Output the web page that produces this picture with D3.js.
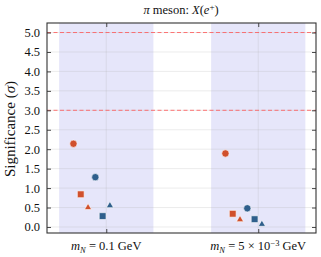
<!DOCTYPE html>
<html><head><meta charset="utf-8">
<script src="https://cdn.jsdelivr.net/npm/d3@7"></script>
<style>body{margin:0;background:#fff}svg{display:block}text{font-family:"Liberation Serif","DejaVu Serif",serif;fill:#111}</style>
</head><body><svg id="c" width="321" height="257"></svg>
<script>
const categories = ["0.1", "5e-3"];
const seriesNames = ["redCircle","redSquare","redTriangle","blueCircle","blueSquare","blueTriangle"];
const seriesColors = ["#d0502c","#d0502c","#d0502c","#2f5f8c","#2f5f8c","#2f5f8c"];
const seriesShapes = ["circle","square","triangle","circle","square","triangle"];
const values = [
  [2.14, 1.89],
  [0.84, 0.34],
  [0.50, 0.19],
  [1.28, 0.48],
  [0.28, 0.20],
  [0.55, 0.07]
];
const yTicks = [0.0,0.5,1.0,1.5,2.0,2.5,3.0,3.5,4.0,4.5,5.0];
const thresholds = [3.0, 5.0];

const svg = d3.select("#c");
const L=47, R=316, T=23, B=233;
const x = d3.scaleLinear().domain([-0.39,1.38]).range([L,R]);
const y = d3.scaleLinear().domain([-0.155,5.245]).range([B,T]);

categories.forEach((c,i)=>{
  svg.append("rect").attr("x",x(i-0.31)).attr("y",T).attr("width",x(i+0.31)-x(i-0.31)).attr("height",B-T).attr("fill","#e6e6fa");
});
svg.append("g").selectAll("line").data(yTicks).join("line")
  .attr("x1",L).attr("x2",R).attr("y1",d=>y(d)).attr("y2",d=>y(d))
  .attr("stroke","#b0b0b0").attr("stroke-opacity",0.3).attr("stroke-width",0.8);
svg.append("g").selectAll("line").data(categories).join("line")
  .attr("x1",(d,i)=>x(i)).attr("x2",(d,i)=>x(i)).attr("y1",T).attr("y2",B)
  .attr("stroke","#b0b0b0").attr("stroke-opacity",0.3).attr("stroke-width",0.8);
svg.append("g").selectAll("line").data(thresholds).join("line")
  .attr("x1",L).attr("x2",R).attr("y1",d=>y(d)).attr("y2",d=>y(d))
  .attr("stroke","#ff5555").attr("stroke-opacity",0.8).attr("stroke-width",1).attr("stroke-dasharray","4,2.5");

const axL = d3.axisLeft(y).tickValues(yTicks).tickFormat(d3.format(".1f")).tickSize(-4).tickPadding(7);
const axR = d3.axisRight(y).tickValues(yTicks).tickFormat("").tickSize(-4);
const axB = d3.axisBottom(x).tickValues([0,1]).tickFormat("").tickSize(-4);
const axT = d3.axisTop(x).tickValues([0,1]).tickFormat("").tickSize(-4);
function style(g){g.select(".domain").remove();g.selectAll(".tick line").attr("stroke","#333").attr("stroke-width",0.9);g.selectAll("text").attr("font-size",12.5).attr("fill","#111").attr("font-family","Liberation Serif, serif");}
svg.append("g").attr("transform",`translate(${L},0)`).call(axL).call(style);
svg.append("g").attr("transform",`translate(${R},0)`).call(axR).call(style);
svg.append("g").attr("transform",`translate(0,${B})`).call(axB).call(style);
svg.append("g").attr("transform",`translate(0,${T})`).call(axT).call(style);
svg.append("rect").attr("x",L).attr("y",T).attr("width",R-L).attr("height",B-T).attr("fill","none").attr("stroke","#333").attr("stroke-width",1.1);

const step = 0.048;
const sym = {circle:d3.symbolCircle, square:d3.symbolSquare, triangle:d3.symbolTriangle};
const sizes = {circle:42, square:46, triangle:22};
seriesNames.forEach((s,si)=>{
  values[si].forEach((v,ci)=>{
    const px = x(ci + (si-4.5)*step), py = y(v);
    svg.append("path").attr("d", d3.symbol(sym[seriesShapes[si]], sizes[seriesShapes[si]])())
      .attr("transform",`translate(${px},${py})`)
      .attr("fill",seriesColors[si]).attr("stroke","#fff").attr("stroke-width",0.6);
  });
});

const t = svg.append("text").attr("x",181).attr("y",14).attr("text-anchor","middle").attr("font-size",12.5);
t.append("tspan").attr("font-style","italic").text("π");
t.append("tspan").text(" meson: ");
t.append("tspan").attr("font-style","italic").text("X");
t.append("tspan").text("(");
t.append("tspan").attr("font-style","italic").text("e");
t.append("tspan").attr("font-size",9).attr("dy",-4.5).text("+");
t.append("tspan").attr("dy",4.5).text(")");

const yl = svg.append("text").attr("transform","translate(15,129) rotate(-90)").attr("text-anchor","middle").attr("font-size",15);
yl.append("tspan").text("Significance (");
yl.append("tspan").attr("font-style","italic").text("σ");
yl.append("tspan").text(")");

function xlab(cx, parts){
  const tx = svg.append("text").attr("x",cx).attr("y",250).attr("text-anchor","middle").attr("font-size",12.5);
  parts.forEach(p=>{const ts=tx.append("tspan").text(p.t); if(p.i) ts.attr("font-style","italic"); if(p.s) ts.attr("font-size",p.s); if(p.dy!==undefined) ts.attr("dy",p.dy);});
}
xlab(x(0), [{t:"m",i:1},{t:"N",i:1,s:8.5,dy:2.5},{t:" = 0.1 GeV",dy:-2.5}]);
xlab(x(1), [{t:"m",i:1},{t:"N",i:1,s:8.5,dy:2.5},{t:" = 5 × 10",dy:-2.5},{t:"−3",s:8.5,dy:-4.5},{t:" GeV",dy:4.5}]);
</script></body></html>
